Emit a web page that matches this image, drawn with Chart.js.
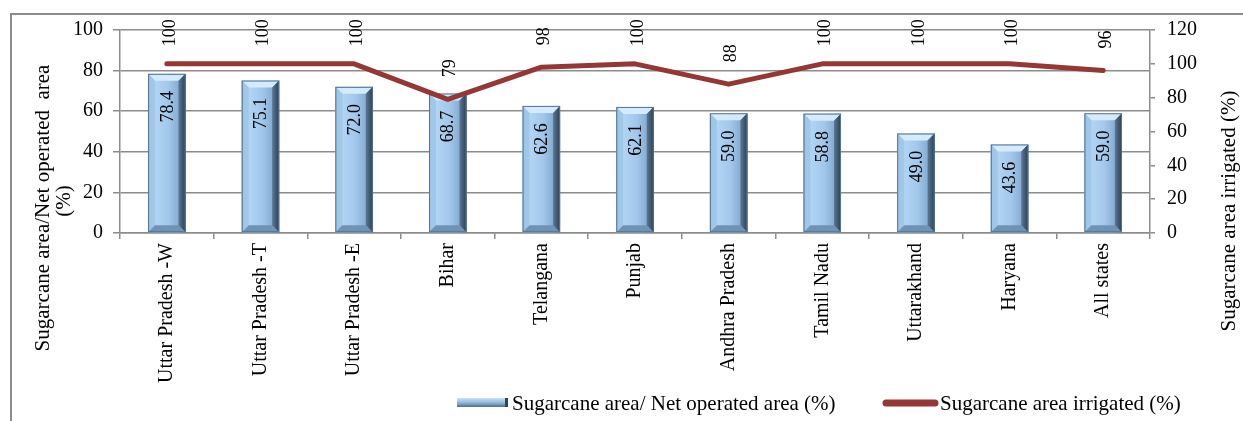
<!DOCTYPE html>
<html>
<head>
<meta charset="utf-8">
<script src="https://cdn.jsdelivr.net/npm/chart.js@4"></script>
<style>
    body { margin: 0; background: #fff; }
    #wrap { position: relative; width: 1243px; height: 421px; overflow: hidden; }
    #frame { position: absolute; left: 10px; top: 13px; width: 1300px; height: 500px;
             border-left: 2px solid #8c8c8c; border-top: 2px solid #8c8c8c; }
    #chart { position: absolute; left: 0; top: 0; }
</style>
</head>
<body>
<div id="wrap">
    <div id="frame"></div>
    <canvas id="chart" width="1243" height="421"></canvas>
</div>
<script>
const states = ['Uttar Pradesh -W', 'Uttar Pradesh -T', 'Uttar Pradesh -E', 'Bihar', 'Telangana', 'Punjab',
    'Andhra Pradesh', 'Tamil Nadu', 'Uttarakhand', 'Haryana', 'All states'];
const areaShare = [78.4, 75.1, 72.0, 68.7, 62.6, 62.1, 59.0, 58.8, 49.0, 43.6, 59.0];
const irrigated = [100, 100, 100, 79, 98, 100, 88, 100, 100, 100, 96];
const leftTicks = [0, 20, 40, 60, 80, 100];
const rightTicks = [0, 20, 40, 60, 80, 100, 120];

const barLabel = 'Sugarcane area/ Net operated area (%)';
const lineLabel = 'Sugarcane area irrigated (%)';
const leftTitle = ['Sugarcane area/Net operated  area', '(%)'];
const rightTitle = 'Sugarcane area irrigated (%)';

const serif = 'Liberation Serif';
const gridGrey = '#8c8c8c';
const lineRed = '#953735';

// draws the bevelled look of each bar over the plain bar
function bevel(ctx, x0, x1, top, bot) {
    const b = Math.min(7, (bot - top) / 2);
    const body = ctx.createLinearGradient(x0, 0, x1, 0);
    body.addColorStop(0, '#8db2d7');
    body.addColorStop(0.18, '#b2d5f4');
    body.addColorStop(0.55, '#a2c7eb');
    body.addColorStop(0.8, '#88aed3');
    body.addColorStop(1, '#4d6b89');
    ctx.fillStyle = body;
    ctx.fillRect(x0, top, x1 - x0, bot - top);

    ctx.fillStyle = '#d3ebfc';
    ctx.beginPath();
    ctx.moveTo(x0, top); ctx.lineTo(x1, top); ctx.lineTo(x1 - b, top + b); ctx.lineTo(x0 + b, top + b);
    ctx.closePath(); ctx.fill();

    ctx.fillStyle = 'rgba(160,198,232,0.9)';
    ctx.beginPath();
    ctx.moveTo(x0, top); ctx.lineTo(x0 + b, top + b); ctx.lineTo(x0 + b, bot - b); ctx.lineTo(x0, bot);
    ctx.closePath(); ctx.fill();

    const rg = ctx.createLinearGradient(x1 - b, 0, x1, 0);
    rg.addColorStop(0, '#5b7896');
    rg.addColorStop(1, '#2c3f52');
    ctx.fillStyle = rg;
    ctx.beginPath();
    ctx.moveTo(x1, top); ctx.lineTo(x1 - b, top + b); ctx.lineTo(x1 - b, bot - b); ctx.lineTo(x1, bot);
    ctx.closePath(); ctx.fill();

    ctx.fillStyle = '#6f92b5';
    ctx.beginPath();
    ctx.moveTo(x0, bot); ctx.lineTo(x0 + b, bot - b); ctx.lineTo(x1 - b, bot - b); ctx.lineTo(x1, bot);
    ctx.closePath(); ctx.fill();

    ctx.strokeStyle = '#55738f';
    ctx.lineWidth = 1;
    ctx.strokeRect(x0 + 0.5, top + 0.5, x1 - x0 - 1, bot - top - 1);
}

function vText(ctx, text, x, y) {
    ctx.save();
    ctx.translate(x, y);
    ctx.rotate(-Math.PI / 2);
    ctx.textAlign = 'center';
    ctx.textBaseline = 'middle';
    ctx.fillText(text, 0, 0);
    ctx.restore();
}

const decor = {
    id: 'decor',
    afterDatasetDraw(chart, args) {
        if (args.index !== 0) return;
        const ctx = chart.ctx;
        ctx.save();
        args.meta.data.forEach(el => {
            const p = el.getProps(['x', 'y', 'base', 'width'], true);
            bevel(ctx, p.x - p.width / 2, p.x + p.width / 2, p.y, p.base);
        });
        ctx.restore();
    },
    afterDatasetsDraw(chart) {
        const ctx = chart.ctx;
        ctx.save();
        ctx.fillStyle = '#000';
        ctx.font = '18px "' + serif + '"';
        chart.getDatasetMeta(0).data.forEach((el, i) => {
            vText(ctx, areaShare[i].toFixed(1), el.x + 1, el.y + 33);
        });
        chart.getDatasetMeta(1).data.forEach((el, i) => {
            vText(ctx, String(irrigated[i]), el.x + 3, el.y - 31);
        });
        ctx.restore();
    },
    afterDraw(chart) {
        const ctx = chart.ctx;
        ctx.save();
        ctx.fillStyle = '#000';
        ctx.font = '21px "' + serif + '"';
        vText(ctx, leftTitle[0], 43, 208);
        vText(ctx, leftTitle[1], 64, 201);
        vText(ctx, rightTitle, 1229, 211);

        // legend
        const g = ctx.createLinearGradient(0, 398, 0, 408);
        g.addColorStop(0, '#c9e3f8');
        g.addColorStop(0.5, '#8fb3d6');
        g.addColorStop(1, '#3f5b78');
        ctx.fillStyle = g;
        ctx.fillRect(457, 398, 51, 9);
        ctx.fillStyle = '#2f4458';
        ctx.fillRect(505, 398, 3, 9);

        ctx.strokeStyle = lineRed;
        ctx.lineWidth = 7;
        ctx.lineCap = 'round';
        ctx.beginPath();
        ctx.moveTo(886, 403);
        ctx.lineTo(935, 403);
        ctx.stroke();

        ctx.fillStyle = '#000';
        ctx.textBaseline = 'middle';
        ctx.textAlign = 'left';
        ctx.fillText(barLabel, 512, 404);
        ctx.fillText(lineLabel, 940, 404);
        ctx.restore();
    }
};

const tickFont = { family: serif, size: 20 };

new Chart(document.getElementById('chart').getContext('2d'), {
    type: 'bar',
    data: {
        labels: states,
        datasets: [{
            type: 'bar',
            label: barLabel,
            data: areaShare,
            yAxisID: 'y',
            backgroundColor: '#a2c7eb',
            barPercentage: 0.4,
            categoryPercentage: 1,
            order: 2
        }, {
            type: 'line',
            label: lineLabel,
            data: irrigated,
            yAxisID: 'y2',
            borderColor: lineRed,
            borderWidth: 5,
            borderCapStyle: 'round',
            borderJoinStyle: 'round',
            pointRadius: 0,
            tension: 0,
            order: 1
        }]
    },
    options: {
        responsive: false,
        animation: false,
        layout: { padding: { top: 30, left: 0, right: 0, bottom: 0 } },
        plugins: {
            legend: { display: false },
            tooltip: { enabled: false }
        },
        scales: {
            x: {
                grid: { offset: true, drawOnChartArea: false, tickLength: 6, color: gridGrey, lineWidth: 1.5 },
                border: { color: gridGrey, width: 1.5 },
                ticks: { minRotation: 90, maxRotation: 90, autoSkip: false, font: tickFont, color: '#000', padding: 4 },
                afterFit: s => { s.height = 188; }
            },
            y: {
                position: 'left',
                min: 0, max: 100,
                afterBuildTicks: s => { s.ticks = leftTicks.map(v => ({ value: v })); },
                grid: { color: gridGrey, lineWidth: 1.5, tickLength: 7 },
                border: { color: gridGrey, width: 1.5 },
                ticks: { font: tickFont, color: '#000', padding: 10 },
                afterFit: s => { s.width = 120; }
            },
            y2: {
                position: 'right',
                min: 0, max: 120,
                afterBuildTicks: s => { s.ticks = rightTicks.map(v => ({ value: v })); },
                grid: { drawOnChartArea: false, color: gridGrey, lineWidth: 1.5, tickLength: 5 },
                border: { color: gridGrey, width: 1.5 },
                ticks: { font: tickFont, color: '#000', padding: 12 },
                afterFit: s => { s.width = 93; }
            }
        }
    },
    plugins: [decor]
});
</script>
</body>
</html>
